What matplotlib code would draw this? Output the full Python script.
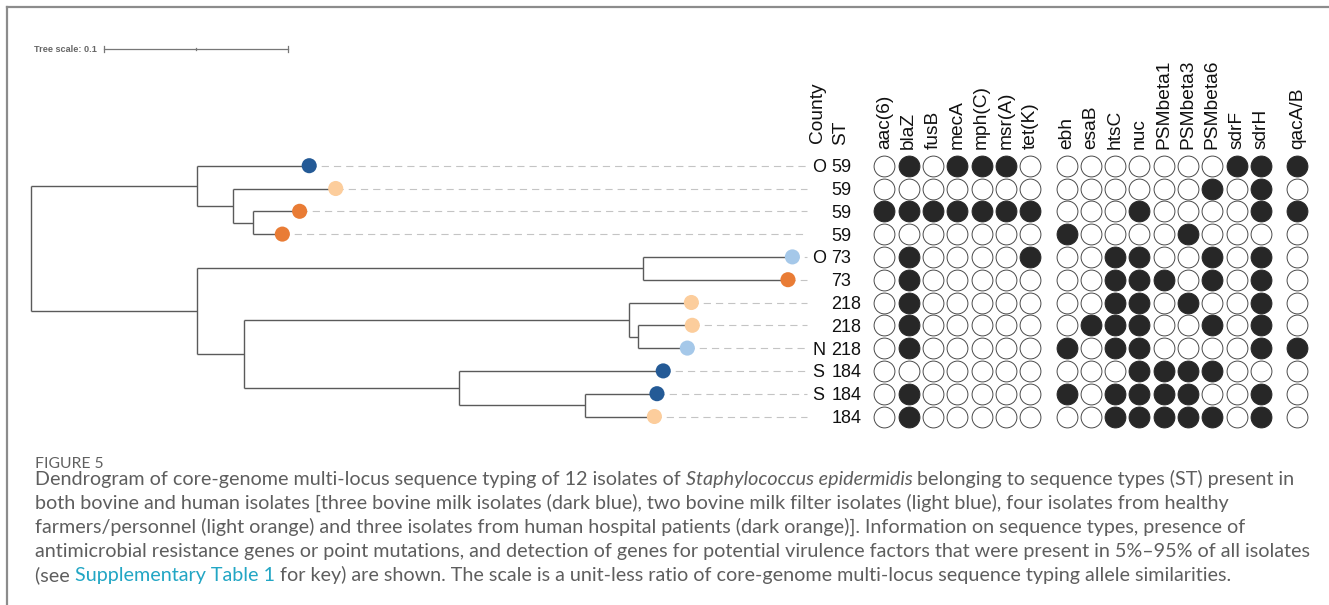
import matplotlib
matplotlib.use("Agg")
import matplotlib.pyplot as plt
from matplotlib.lines import Line2D

# ---------------- data ----------------
# leaves (top to bottom)
leaf_depth = [0.1512, 0.1656, 0.1460, 0.1366, 0.4138, 0.4114,
              0.3589, 0.3594, 0.3567, 0.3436, 0.3402, 0.3388]
leaf_source = ["bovine_milk", "farmer", "hospital", "hospital", "milk_filter", "hospital",
               "farmer", "farmer", "milk_filter", "bovine_milk", "bovine_milk", "farmer"]
county = ["O", "", "", "", "O", "", "", "", "N", "S", "S", ""]
st = ["59", "59", "59", "59", "73", "73", "218", "218", "218", "184", "184", "184"]

# internal nodes: name -> depth, children
node_depth = {"root": 0.0, "A": 0.0901, "B": 0.1099, "C": 0.1208,
              "D": 0.0901, "E": 0.3328, "F": 0.1158, "G": 0.3250,
              "H": 0.3301, "I": 0.2328, "J": 0.3013}
node_children = {"root": ["A", "D"], "A": [0, "B"], "B": [1, "C"], "C": [2, 3],
                 "D": ["E", "F"], "E": [4, 5], "F": ["G", "I"], "G": [6, "H"],
                 "H": [7, 8], "I": [9, "J"], "J": [10, 11]}

genes_amr = ["aac(6)", "blaZ", "fusB", "mecA", "mph(C)", "msr(A)", "tet(K)"]
genes_vir = ["ebh", "esaB", "htsC", "nuc", "PSMbeta1", "PSMbeta3", "PSMbeta6", "sdrF", "sdrH"]
genes_dis = ["qacA/B"]

amr = ["0101110", "0000000", "1111111", "0000000", "0100001", "0100000",
       "0100000", "0100000", "0100000", "0000000", "0100000", "0100000"]
vir = ["000000011", "000000101", "000100001", "100001000", "001100101", "001110101",
       "001101001", "011100101", "101100001", "000111100", "101111001", "001111101"]
dis = ["1", "0", "1", "0", "0", "0", "0", "0", "1", "0", "0", "0"]

tree_scale = 0.1

# ---------------- style ----------------
source_color = {"bovine_milk": "#245a96", "milk_filter": "#a5c8e9",
                "farmer": "#fccd9c", "hospital": "#e97c35"}
W, H = 1329, 605
ROW0, ROWSTEP = 165.7, 22.8          # pixel y of first row, row spacing
PX_PER_UNIT, ROOT_PX = 1840.0, 31.0  # tree x scale
COL0, COLSTEP = 884.3, 24.3          # grid columns
DASH_END = 0.4217

fig = plt.figure(figsize=(W / 100, H / 100), dpi=100)
ylim = ((H - ROW0) / ROWSTEP, (0 - ROW0) / ROWSTEP)

ax_t = fig.add_axes([0, 0, 1, 1])
ax_t.set_xlim(-ROOT_PX / PX_PER_UNIT, (W - ROOT_PX) / PX_PER_UNIT)
ax_t.set_ylim(*ylim)
ax_t.axis("off")

ax_g = fig.add_axes([0, 0, 1, 1])
ax_g.set_xlim(-COL0 / COLSTEP, (W - COL0) / COLSTEP)
ax_g.set_ylim(*ylim)
ax_g.axis("off")
ax_g.patch.set_alpha(0)

# ---------------- tree ----------------
line_kw = dict(color="#5a5a5a", lw=1.0, solid_capstyle="butt", zorder=2)
ypos = {}

def node_y(n):
    if isinstance(n, int):
        return float(n)
    if n in ypos:
        return ypos[n]
    ch = node_children[n]
    y = (node_y(ch[0]) + node_y(ch[-1])) / 2
    ypos[n] = y
    return y

def node_x(n):
    return leaf_depth[n] if isinstance(n, int) else node_depth[n]

for n, ch in node_children.items():
    x0 = node_depth[n]
    ys = [node_y(c) for c in ch]
    ax_t.plot([x0, x0], [min(ys), max(ys)], **line_kw)
    for c in ch:
        ax_t.plot([x0, node_x(c)], [node_y(c), node_y(c)], **line_kw)

rows = list(range(len(leaf_depth)))
for r in rows:
    ax_t.plot([leaf_depth[r], DASH_END], [r, r], color="#c4c4c4", lw=0.8,
              dashes=(6.5, 4.5), zorder=1)
ax_t.scatter(leaf_depth, rows, s=118, c=[source_color[s] for s in leaf_source],
             linewidths=0, zorder=3)

# tree scale bar
sb0 = (104.3 - ROOT_PX) / PX_PER_UNIT
sby = (49 - ROW0) / ROWSTEP
tick = 0.13
ax_t.plot([sb0, sb0 + tree_scale], [sby, sby], color="#777777", lw=0.9)
for xx, tk in [(sb0, tick), (sb0 + tree_scale, tick), (sb0 + tree_scale / 2, 0.06)]:
    ax_t.plot([xx, xx], [sby - tk, sby + tk], color="#777777", lw=0.9)
ax_t.text(sb0 - 0.0040, sby, f"Tree scale: {tree_scale}", ha="right", va="center",
          fontsize=6.6, fontweight="bold", color="#666666", family="Liberation Sans")

# ---------------- labels and grid ----------------
lab_kw = dict(fontsize=13, family="Liberation Sans", color="#111111")
head_kw = dict(fontsize=13.8, family="Liberation Sans", color="#111111")
county_x = (812 - COL0) / COLSTEP
st_x = (831.5 - COL0) / COLSTEP
for r in rows:
    ax_g.text(county_x, r, county[r], ha="left", va="center_baseline", **lab_kw)
    ax_g.text(st_x, r, st[r], ha="left", va="center_baseline", **lab_kw)

head_y = (149 - ROW0) / ROWSTEP
ax_g.text((817 - COL0) / COLSTEP, (143 - ROW0) / ROWSTEP, "County", rotation=90,
          ha="center", va="bottom", **head_kw)
ax_g.text((841 - COL0) / COLSTEP, (145 - ROW0) / ROWSTEP, "ST", rotation=90,
          ha="center", va="bottom", **head_kw)

groups = [(genes_amr, amr, 0.0), (genes_vir, vir, 7.5), (genes_dis, dis, 17.0)]
for names, mat, start in groups:
    for j, g in enumerate(names):
        cx = start + j
        ax_g.text(cx, head_y, g, rotation=90, ha="center", va="bottom", **head_kw)
        filled = [r for r in rows if mat[r][j] == "1"]
        empty = [r for r in rows if mat[r][j] == "0"]
        ax_g.scatter([cx] * len(empty), empty, s=225, facecolors="white",
                     edgecolors="#4a4a4a", linewidths=0.7, zorder=3)
        ax_g.scatter([cx] * len(filled), filled, s=225, facecolors="#272727",
                     edgecolors="#272727", linewidths=0.7, zorder=3)

# ---------------- frame ----------------
fig.add_artist(Line2D([7 / W, 7 / W], [0, 1 - 7 / H], color="#8c8c8c", lw=1.6))
fig.add_artist(Line2D([7 / W, 1], [1 - 7 / H, 1 - 7 / H], color="#8c8c8c", lw=1.6))

# ---------------- caption ----------------
cap_font = "Lato"
cap_color = "#5e5e5e"
renderer = fig.canvas.get_renderer()

def piece_width(txt, **kw):
    t1 = fig.text(0, 0, "x" + txt + "x", **kw)
    t2 = fig.text(0, 0, "xx", **kw)
    w = t1.get_window_extent(renderer).width - t2.get_window_extent(renderer).width
    t1.remove(); t2.remove()
    return w

def style_kw(style, size):
    kw = dict(fontsize=size, family=cap_font, color=cap_color)
    if style == "italic":
        kw["fontstyle"] = "italic"
    if style == "link":
        kw["color"] = "#22a6c4"
    return kw

def line_width(pieces, size):
    return sum(piece_width(t, **style_kw(s, size)) for t, s in pieces)

def draw_line(pieces, x_px, base_px, size):
    x = x_px
    for txt, style in pieces:
        kw = style_kw(style, size)
        fig.text(x / W, 1 - base_px / H, txt, ha="left", va="baseline", **kw)
        x += piece_width(txt, **kw)

caption = [
    [("Dendrogram of core-genome multi-locus sequence typing of 12 isolates of ", ""),
     ("Staphylococcus epidermidis", "italic"),
     (" belonging to sequence types (ST) present in", "")],
    [("both bovine and human isolates [three bovine milk isolates (dark blue), two bovine milk "
      "filter isolates (light blue), four isolates from healthy", "")],
    [("farmers/personnel (light orange) and three isolates from human hospital patients "
      "(dark orange)]. Information on sequence types, presence of", "")],
    [("antimicrobial resistance genes or point mutations, and detection of genes for potential "
      "virulence factors that were present in 5%\u201395% of all isolates", "")],
    [("(see ", ""), ("Supplementary Table 1", "link"),
     (" for key) are shown. The scale is a unit-less ratio of core-genome multi-locus sequence "
      "typing allele similarities.", "")],
]
cap_size = 10.0 * 1262.0 / line_width(caption[0], 10.0)

fig.text(35 / W, 1 - 467.5 / H, "FIGURE 5", ha="left", va="baseline", fontsize=11.3,
         family=cap_font, color="#606060")
for i, pieces in enumerate(caption):
    draw_line(pieces, 35, 485 + 24 * i, cap_size)

fig.savefig("out.png", dpi=100)
